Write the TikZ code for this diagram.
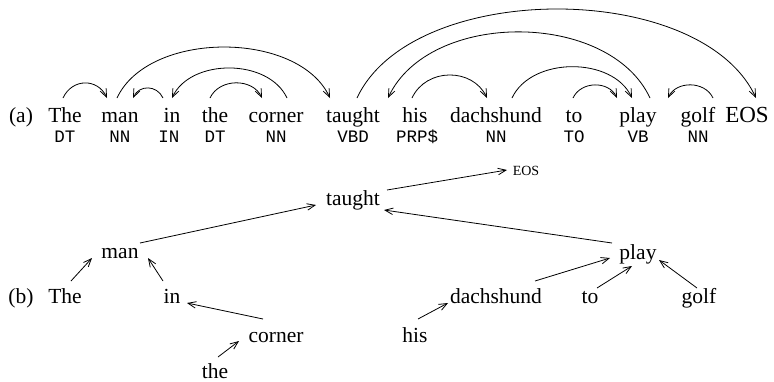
\documentclass[tikz,border=0pt]{standalone}
\usepackage{fontspec}
\setmainfont{Liberation Serif}
\setmonofont{Liberation Mono}
\usetikzlibrary{arrows.meta}

\tikzset{
  word/.style={anchor=base, inner sep=0pt, font=\fontsize{21.5}{26}\selectfont},
  aword/.style={word, text height=14pt, outer ysep=10pt, outer xsep=0pt},
  tag/.style={anchor=base, inner sep=0pt, font=\fontsize{17.5}{21}\selectfont\ttfamily},
  dep/.style={-{Straight Barb[length=8pt,width=6.5pt]}, line width=0.8pt},
}

\begin{document}
\begin{tikzpicture}[x=1pt,y=-1pt]
\useasboundingbox (0,0) rectangle (774,381);
% (a) the sentence with its tags
\node[word] (la) at (21,122) {(a)};
\node[aword] (aThe) at (65,122) {The};
\node[aword] (aman) at (120,122) {man};
\node[aword] (ain) at (172,122) {in};
\node[aword] (athe) at (215,122) {the};
\node[aword] (acorner) at (276,122) {corner};
\node[aword] (ataught) at (353,122) {taught};
\node[aword] (ahis) at (415,122) {his};
\node[aword] (adachshund) at (496,122) {dachshund};
\node[aword] (ato) at (574,122) {to};
\node[aword] (aplay) at (638,122) {play};
\node[aword] (agolf) at (698,122) {golf};
\node[aword, font=\fontsize{23}{26}\selectfont] (aEOS) at (747,122) {EOS};
\node[tag] (tThe) at ([yshift=-20pt]aThe.base) {DT};
\node[tag] (tman) at ([yshift=-20pt]aman.base) {NN};
\node[tag] (tin) at ([xshift=-3pt,yshift=-20pt]ain.base) {IN};
\node[tag] (tthe) at ([yshift=-20pt]athe.base) {DT};
\node[tag] (tcorner) at ([yshift=-20pt]acorner.base) {NN};
\node[tag] (ttaught) at ([yshift=-20pt]ataught.base) {VBD};
\node[tag] (this) at ([xshift=2pt,yshift=-20pt]ahis.base) {PRP\$};
\node[tag] (tdachshund) at ([yshift=-20pt]adachshund.base) {NN};
\node[tag] (tto) at ([yshift=-20pt]ato.base) {TO};
\node[tag] (tplay) at ([yshift=-20pt]aplay.base) {VB};
\node[tag] (tgolf) at ([yshift=-20pt]agolf.base) {NN};
% (a) arcs over the words
\draw[dep] ([xshift=-2pt]aThe.north) to[bend left=65,looseness=1.28] ([xshift=-13pt]aman.north);
\draw[dep] ([xshift=-3pt]aman.north) to[bend left=65,looseness=0.9] ([xshift=-23pt]ataught.north);
\draw[dep] ([xshift=-9pt]ain.north) to[bend right=65,looseness=1.25] ([xshift=13pt]aman.north);
\draw[dep] ([xshift=11pt]acorner.north) to[bend right=65,looseness=0.98] (ain.north);
\draw[dep] ([xshift=-5pt]athe.north) to[bend left=65,looseness=1.09] ([xshift=-14pt]acorner.north);
\draw[dep] ([xshift=4pt]ataught.north) to[bend left=65,looseness=0.84] ([xshift=9pt]aEOS.north);
\draw[dep] ([xshift=12pt]aplay.north) to[bend right=65,looseness=0.95] ([xshift=35pt]ataught.north);
\draw[dep] ([xshift=-3pt]ahis.north) to[bend left=65,looseness=1.15] ([xshift=-9pt]adachshund.north);
\draw[dep] ([xshift=16pt]adachshund.north) to[bend left=65,looseness=0.98] ([xshift=-6pt]aplay.north);
\draw[dep] ([xshift=-1pt]ato.north) to[bend left=65,looseness=1.11] ([xshift=-21pt]aplay.north);
\draw[dep] ([xshift=15pt]agolf.north) to[bend right=65,looseness=1.09] ([xshift=30pt]aplay.north);
% (b) the tree
\node[word] (lb) at (21,303) {(b)};
\node[word] (bThe) at (65,303) {The};
\node[word] (bman) at (120,258) {man};
\node[word] (bin) at (172,303) {in};
\node[word] (bcorner) at (276,342) {corner};
\node[word] (bthe) at (215,378) {the};
\node[word] (btaught) at (353,205) {taught};
\node[word, font=\fontsize{14}{17}\selectfont] (bEOS) at (526,175) {EOS};
\node[word] (bplay) at (638,259) {play};
\node[word] (bdachshund) at (496,303) {dachshund};
\node[word] (bto) at (590,303) {to};
\node[word] (bgolf) at (699,303) {golf};
\node[word] (bhis) at (415,342) {his};
\draw[dep] ([shift={(6,-22)}]bThe.base) -- ([shift={(-28,0)}]bman.base);
\draw[dep] ([shift={(-9,-22)}]bin.base) -- ([shift={(28,0)}]bman.base);
\draw[dep] ([shift={(20,-15)}]bman.base) -- ([shift={(-37,0)}]btaught.base);
\draw[dep] ([shift={(-13,-23)}]bcorner.base) -- ([shift={(15,0)}]bin.base);
\draw[dep] ([shift={(3,-21)}]bthe.base) -- ([shift={(-37,-1)}]bcorner.base);
\draw[dep] ([shift={(34,-15)}]btaught.base) -- ([shift={(-19,-5)}]bEOS.base);
\draw[dep] ([shift={(-26,-16)}]bplay.base) -- ([shift={(31,5)}]btaught.base);
\draw[dep] ([shift={(39,-22)}]bdachshund.base) -- ([shift={(-28,-1)}]bplay.base);
\draw[dep] ([shift={(7,-15)}]bto.base) -- ([shift={(-6,7)}]bplay.base);
\draw[dep] ([shift={(-2,-15)}]bgolf.base) -- ([shift={(21,1)}]bplay.base);
\draw[dep] ([shift={(3,-23)}]bhis.base) -- ([shift={(-48,0)}]bdachshund.base);
\end{tikzpicture}
\end{document}
